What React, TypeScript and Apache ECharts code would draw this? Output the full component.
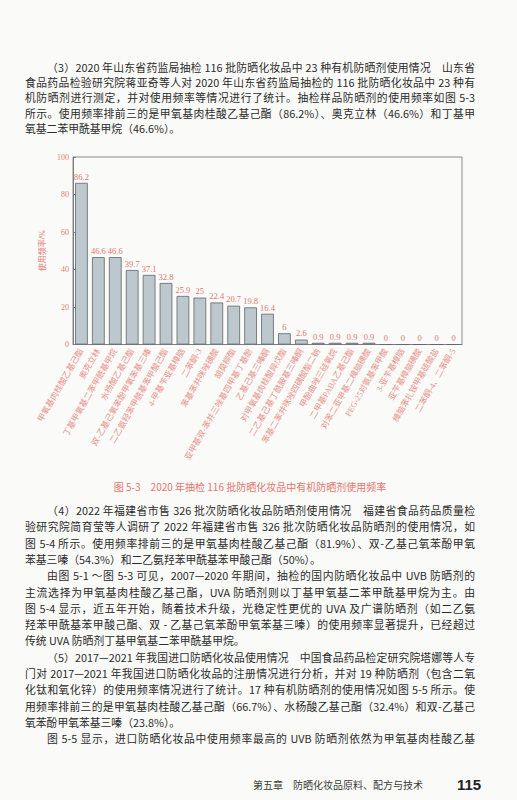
import React, { useEffect, useRef } from "react";
import * as echarts from "echarts";

const categories = [
  "甲氧基肉桂酸乙基己酯",
  "奥克立林",
  "丁基甲氧基二苯甲酰基甲烷",
  "水杨酸乙基己酯",
  "双-乙基己氧苯酚甲氧苯基三嗪",
  "二乙氨羟苯甲酰基苯甲酸己酯",
  "4-甲基苄亚基樟脑",
  "二苯酮-3",
  "苯基苯并咪唑磺酸",
  "胡莫柳酯",
  "亚甲基双-苯并三唑基四甲基丁基酚",
  "乙基己基三嗪酮",
  "对甲氧基肉桂酸异戊酯",
  "二乙基己基丁酰胺基三嗪酮",
  "苯基二苯并咪唑四磺酸酯二钠",
  "甲酚曲唑三硅氧烷",
  "二甲基PABA乙基己酯",
  "对苯二亚甲基二樟脑磺酸",
  "PEG-25对氨基苯甲酸",
  "3-亚苄基樟脑",
  "亚苄基樟脑磺酸",
  "樟脑苯扎铵甲基硫酸盐",
  "二苯酮-4、二苯酮-5",
];

const usageRates = [
  86.2, 46.6, 46.6, 39.7, 37.1, 32.8, 25.9, 25, 22.4, 20.7, 19.8, 16.4, 6, 2.6,
  0.9, 0.9, 0.9, 0.9, 0, 0, 0, 0, 0,
];

const yAxisName = "使用频率/%";
const yMin = 0;
const yMax = 100;
const yInterval = 20;
const figureCaption = "图 5-3　2020 年抽检 116 批防晒化妆品中有机防晒剂使用频率";

const topParagraph = [
  { text: "（3）2020 年山东省药监局抽检 116 批防晒化妆品中 23 种有机防晒剂使用情况　山东省", indent: true, justify: true },
  { text: "食品药品检验研究院蒋亚奇等人对 2020 年山东省药监局抽检的 116 批防晒化妆品中 23 种有", indent: false, justify: true },
  { text: "机防晒剂进行测定，并对使用频率等情况进行了统计。抽检样品防晒剂的使用频率如图 5-3", indent: false, justify: true },
  { text: "所示。使用频率排前三的是甲氧基肉桂酸乙基己酯（86.2%）、奥克立林（46.6%）和丁基甲", indent: false, justify: true },
  { text: "氧基二苯甲酰基甲烷（46.6%）。", indent: false, justify: false },
];

const bottomParagraphs = [
  { text: "（4）2022 年福建省市售 326 批次防晒化妆品防晒剂使用情况　福建省食品药品质量检", indent: true, justify: true },
  { text: "验研究院简育莹等人调研了 2022 年福建省市售 326 批次防晒化妆品防晒剂的使用情况，如", indent: false, justify: true },
  { text: "图 5-4 所示。使用频率排前三的是甲氧基肉桂酸乙基己酯（81.9%）、双-乙基己氧苯酚甲氧", indent: false, justify: true },
  { text: "苯基三嗪（54.3%）和二乙氨羟苯甲酰基苯甲酸己酯（50%）。", indent: false, justify: false },
  { text: "由图 5-1 ～图 5-3 可见，2007—2020 年期间，抽检的国内防晒化妆品中 UVB 防晒剂的", indent: true, justify: true },
  { text: "主流选择为甲氧基肉桂酸乙基己酯，UVA 防晒剂则以丁基甲氧基二苯甲酰基甲烷为主。由", indent: false, justify: true },
  { text: "图 5-4 显示，近五年开始，随着技术升级，光稳定性更优的 UVA 及广谱防晒剂（如二乙氨", indent: false, justify: true },
  { text: "羟苯甲酰基苯甲酸己酯、双 - 乙基己氧苯酚甲氧苯基三嗪）的使用频率显著提升，已经超过", indent: false, justify: true },
  { text: "传统 UVA 防晒剂丁基甲氧基二苯甲酰基甲烷。", indent: false, justify: false },
  { text: "（5）2017—2021 年我国进口防晒化妆品使用情况　中国食品药品检定研究院塔娜等人专", indent: true, justify: true },
  { text: "门对 2017—2021 年我国进口防晒化妆品的注册情况进行分析，并对 19 种防晒剂（包含二氧", indent: false, justify: true },
  { text: "化钛和氧化锌）的使用频率情况进行了统计。17 种有机防晒剂的使用情况如图 5-5 所示。使", indent: false, justify: true },
  { text: "用频率排前三的是甲氧基肉桂酸乙基己酯（66.7%）、水杨酸乙基己酯（32.4%）和双-乙基己", indent: false, justify: true },
  { text: "氧苯酚甲氧苯基三嗪（23.8%）。", indent: false, justify: false },
  { text: "图 5-5 显示，进口防晒化妆品中使用频率最高的 UVB 防晒剂依然为甲氧基肉桂酸乙基", indent: true, justify: true },
];

const footerChapter = "第五章　防晒化妆品原料、配方与技术";
const footerPage = "115";

const bodyFont = '"Noto Sans CJK SC", "Noto Sans", sans-serif';
const serifFont = '"Liberation Serif", "Noto Sans CJK SC", serif';
const pink = "#e47a72";

function TextLine(props: { text: string; top: number; indent: boolean; justify: boolean }) {
  const { text, top, indent, justify } = props;
  return (
    <div
      style={{
        position: "absolute",
        left: 25,
        width: 450,
        top: top - 8,
        height: 16,
        lineHeight: "16px",
        fontSize: 10.8,
        paddingLeft: indent ? 22 : 0,
        boxSizing: "border-box",
        whiteSpace: "nowrap",
        textAlign: justify ? "justify" : "left",
        textAlignLast: justify ? "justify" : "left",
        color: "#2b2b2b",
        fontFamily: bodyFont,
      } as React.CSSProperties}
    >
      {text}
    </div>
  );
}

export default function App() {
  const ref = useRef<HTMLDivElement>(null);

  useEffect(() => {
    if (!ref.current) return;
    const chart = echarts.init(ref.current, null, { renderer: "svg" });
    chart.setOption({
      animation: false,
      backgroundColor: "transparent",
      title: {
        text: figureCaption,
        left: "center",
        top: 336,
        textStyle: {
          fontFamily: bodyFont,
          fontSize: 10,
          fontWeight: "normal",
          color: "#e5766c",
        },
      },
      grid: {
        left: 58,
        top: 17,
        width: 389,
        height: 187.5,
        show: true,
        borderColor: "#8c8c8c",
        borderWidth: 1,
        backgroundColor: "transparent",
      },
      xAxis: {
        type: "category",
        data: categories,
        axisLine: { lineStyle: { color: "#7d7d7d", width: 1 } },
        axisTick: { alignWithLabel: true, length: 3, lineStyle: { color: "#7d7d7d" } },
        axisLabel: {
          interval: 0,
          rotate: 60,
          fontSize: 8.3,
          margin: 5,
          color: "#e8928a",
          fontFamily: serifFont,
        },
      },
      yAxis: {
        type: "value",
        min: yMin,
        max: yMax,
        interval: yInterval,
        name: yAxisName,
        nameLocation: "middle",
        nameGap: 12,
        nameRotate: 90,
        nameTextStyle: { color: pink, fontSize: 8, fontFamily: serifFont },
        axisLine: { show: true, lineStyle: { color: "#7d7d7d", width: 1 } },
        axisTick: { show: true, inside: true, length: 3, lineStyle: { color: "#7d7d7d" } },
        axisLabel: { color: pink, fontSize: 8, margin: 4, fontFamily: serifFont },
        splitLine: { show: false },
      },
      series: [
        {
          type: "bar",
          data: usageRates,
          barCategoryGap: "25%",
          itemStyle: {
            color: "#bcc8ce",
            borderColor: "#5f676b",
            borderWidth: 0.8,
          },
          label: {
            show: true,
            position: "top",
            distance: 2,
            fontSize: 8.5,
            color: "#e2766d",
            fontFamily: serifFont,
          },
        },
      ],
    });
    return () => chart.dispose();
  }, []);

  return (
    <div
      style={{
        position: "absolute",
        left: 0,
        top: 0,
        width: 517,
        height: 800,
        background: "#fafaf8",
        overflow: "hidden",
      }}
    >
      {topParagraph.map((l, i) => (
        <TextLine key={"t" + i} text={l.text} top={66.5 + i * 15.4} indent={l.indent} justify={l.justify} />
      ))}
      <div ref={ref} style={{ position: "absolute", left: 15, top: 140, width: 470, height: 355 }} />
      {bottomParagraphs.map((l, i) => (
        <TextLine key={"b" + i} text={l.text} top={510 + i * 16.3} indent={l.indent} justify={l.justify} />
      ))}
      <div
        style={{
          position: "absolute",
          left: 253,
          top: 778,
          fontSize: 10,
          lineHeight: "14px",
          color: "#3a3a3a",
          fontFamily: bodyFont,
          whiteSpace: "nowrap",
        }}
      >
        {footerChapter}
      </div>
      <div
        style={{
          position: "absolute",
          left: 457,
          top: 776,
          fontSize: 15,
          lineHeight: "18px",
          fontWeight: "bold",
          color: "#222",
          fontFamily: '"Liberation Sans", Arial, sans-serif',
        }}
      >
        {footerPage}
      </div>
    </div>
  );
}
